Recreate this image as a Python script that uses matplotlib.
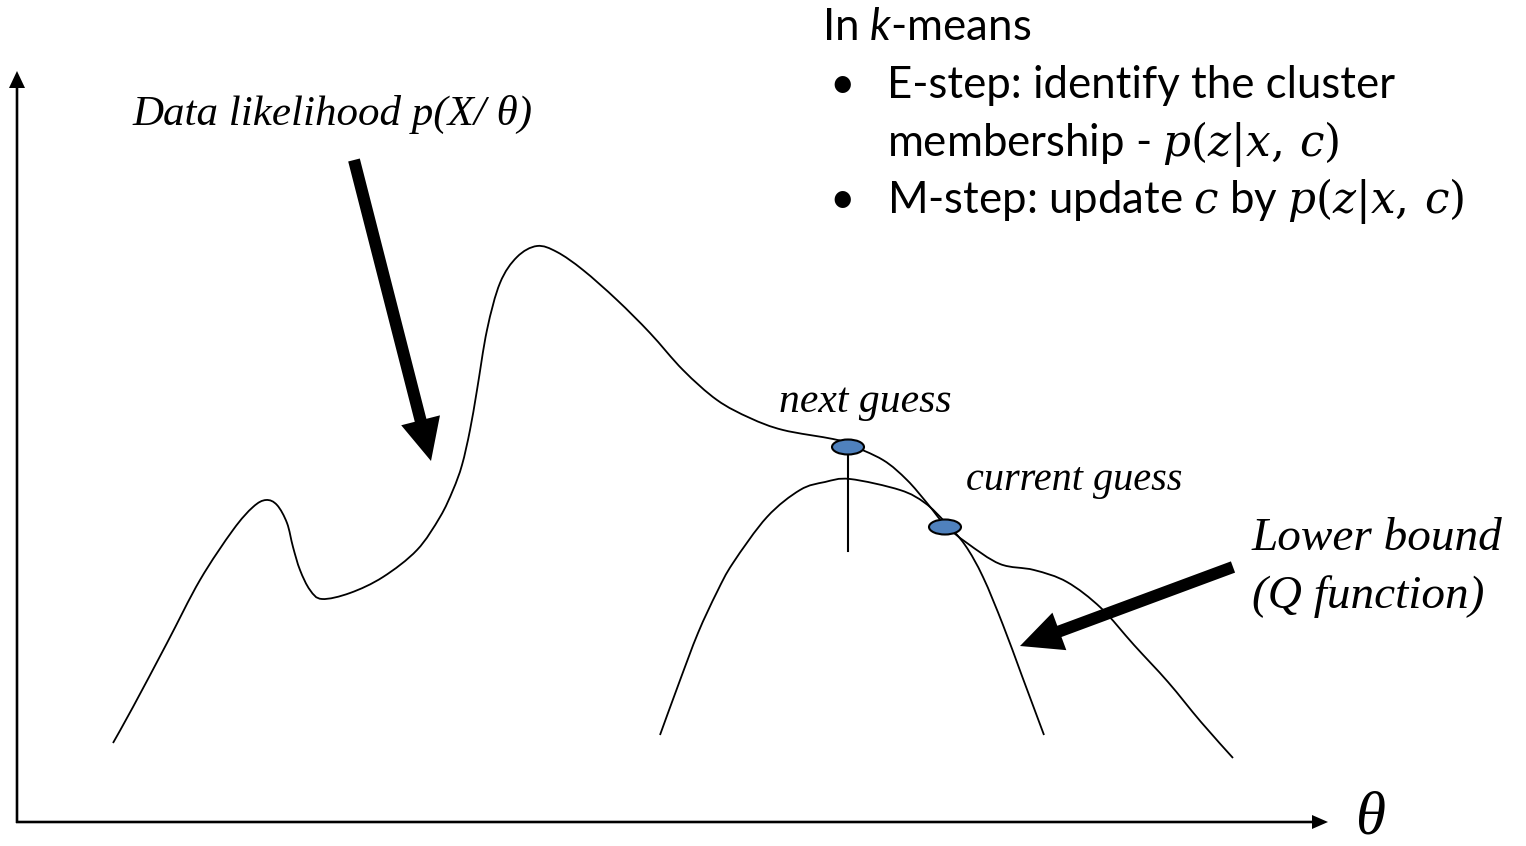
import numpy as np
import matplotlib
matplotlib.use('Agg')
import matplotlib.pyplot as plt
from matplotlib.patches import Ellipse, FancyArrow, PathPatch
from matplotlib.path import Path

plt.rcParams['mathtext.fontset'] = 'custom'
plt.rcParams['mathtext.rm'] = 'DejaVu Serif'
plt.rcParams['mathtext.it'] = 'DejaVu Serif:italic'
plt.rcParams['mathtext.bf'] = 'Lato:italic'

# data likelihood curve (x, y in picture pixels, y grows downward)
lik_x = [113, 133, 167, 200, 233, 253, 266, 277, 287, 293, 300, 310, 322, 350, 383, 417,
         440, 453, 462, 470, 477, 487, 500, 517, 537, 557, 583, 617, 650, 683, 717, 750,
         783, 833, 848, 883, 907, 927, 945, 967, 1000, 1034, 1067, 1101, 1134, 1168, 1201, 1233]
lik_y = [743, 707, 643, 580, 530, 507, 500, 505, 523, 547, 570, 590, 599, 593, 577, 550,
         517, 490, 465, 430, 390, 330, 283, 257, 246, 252, 270, 300, 333, 370, 400, 418,
         430, 439, 444, 460, 480, 503, 525, 543, 564, 570, 582, 608, 645, 682, 722, 758]

# lower bound (Q function)
q_x = [660, 679, 698, 717, 733, 767, 800, 825, 850, 900, 925, 945, 965, 983, 1003, 1022, 1044]
q_y = [735, 683, 633, 592, 563, 517, 490, 482, 479, 490, 503, 522, 545, 577, 625, 676, 735]

next_guess = (848, 447)
current_guess = (945, 527)


def smooth_path(xs, ys):
    # bezier pieces through the read points (catmull-rom style handles)
    p = np.column_stack([xs, ys]).astype(float)
    p = np.vstack([p[0], p, p[-1]])
    verts = [p[1]]
    codes = [Path.MOVETO]
    for i in range(1, len(p) - 2):
        c1 = p[i] + (p[i + 1] - p[i - 1]) / 6
        c2 = p[i + 1] - (p[i + 2] - p[i]) / 6
        verts += [c1, c2, p[i + 1]]
        codes += [Path.CURVE4] * 3
    return Path(verts, codes)


fig = plt.figure(figsize=(15.26, 8.46), dpi=100)
ax = fig.add_axes([0, 0, 1, 1])
ax.set_xlim(0, 1526)
ax.set_ylim(846, 0)
ax.axis('off')

# axes arrows
ax.add_patch(FancyArrow(17, 823, 0, -752, width=2.6, head_width=16, head_length=17,
                        length_includes_head=True, color='black', lw=0))
ax.add_patch(FancyArrow(16, 822, 1312, 0, width=2.6, head_width=14, head_length=16,
                        length_includes_head=True, color='black', lw=0))

for xs, ys in ((lik_x, lik_y), (q_x, q_y)):
    ax.add_patch(PathPatch(smooth_path(xs, ys), facecolor='none', edgecolor='black',
                           lw=1.3, capstyle='butt'))

# vertical line from next guess
ax.plot([next_guess[0], next_guess[0]], [next_guess[1], 551], color='black', lw=1.5)

for c in (next_guess, current_guess):
    ax.add_patch(Ellipse(c, 32, 15, facecolor='#4F81BD', edgecolor='black', lw=1.5, zorder=5))

# big arrows
ax.add_patch(FancyArrow(354, 160, 431 - 354, 461 - 160, width=12, head_width=40, head_length=42,
                        length_includes_head=True, color='black', lw=0))
ax.add_patch(FancyArrow(1233, 567, 1020 - 1233, 646 - 567, width=12, head_width=40, head_length=42,
                        length_includes_head=True, color='black', lw=0))

serif = dict(family='Liberation Serif', style='italic', color='black', va='baseline')
ax.text(132, 125, 'Data likelihood p(X/ \u03b8)', fontsize=31, **serif)
ax.text(779, 412, 'next guess', fontsize=30, **serif)
ax.text(966, 490, 'current guess', fontsize=29, **serif)
ax.text(1252, 550, 'Lower bound', fontsize=34, **serif)
ax.text(1252, 608, '(Q function)', fontsize=34, **serif)
ax.text(1355, 833, '\u03b8', fontsize=44, **serif)

sans = dict(family='Lato', color='black', va='baseline')
fs = 31.5
ax.text(822, 40, r'In $\mathbf{k}$-means', fontsize=fs, **sans)
ax.text(829, 98, '\u2022', fontsize=fs, **sans)
ax.text(829, 213, '\u2022', fontsize=fs, **sans)
ax.text(887, 98, 'E-step: identify the cluster', fontsize=fs, **sans)
ax.text(887, 156, r'membership - $p(z|x,\,c)$', fontsize=fs, **sans)
ax.text(887, 213, r'M-step: update $c$ by $p(z|x,\,c)$', fontsize=fs, **sans)

fig.savefig('out.png', dpi=100)
